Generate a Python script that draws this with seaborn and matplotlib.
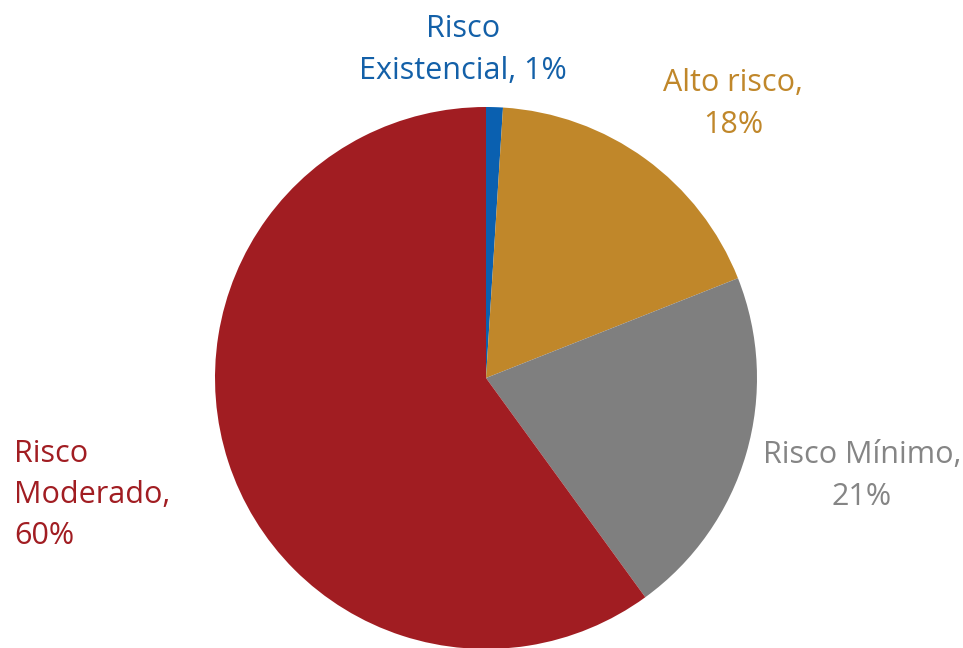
import matplotlib
matplotlib.use("Agg")
import matplotlib.pyplot as plt
import seaborn as sns

categories = ["Risco Existencial", "Alto risco", "Risco Mínimo", "Risco Moderado"]
values = [1, 18, 21, 60]
label_texts = ["Risco\nExistencial, 1%", "Alto risco,\n18%", "Risco Mínimo,\n21%", "Risco\nModerado,\n60%"]

sns.set_theme(style="white")
plt.rcParams['font.family'] = ['Open Sans', 'DejaVu Sans']

slice_colors = ["#0A60B0", "#C0872A", "#7F7F7F", "#A11D22"]
text_colors = ["#1360A8", "#C0872A", "#858585", "#A11D22"]

fig = plt.figure(figsize=(9.63, 6.48), dpi=100)
ax = fig.add_axes([0, 0, 1, 1])
ax.set_xlim(0, 963)
ax.set_ylim(0, 648)
ax.set_aspect('equal')
ax.axis('off')

ax.pie(values, colors=slice_colors, startangle=90, counterclock=False,
       center=(486, 270), radius=271, wedgeprops=dict(linewidth=0),
       frame=False)
ax.set_xlim(0, 963)
ax.set_ylim(0, 648)
ax.axis('off')

positions = [(463, 598, 'center'), (733, 544, 'center'), (862, 172, 'center'), (14, 153, 'left')]
for txt, col, (x, y, ha) in zip(label_texts, text_colors, positions):
    ax.text(x, y, txt, color=col, fontsize=22, ha=ha, va='center',
            multialignment='center' if ha == 'center' else 'left', linespacing=1.5)

fig.savefig("out.png", dpi=100)
